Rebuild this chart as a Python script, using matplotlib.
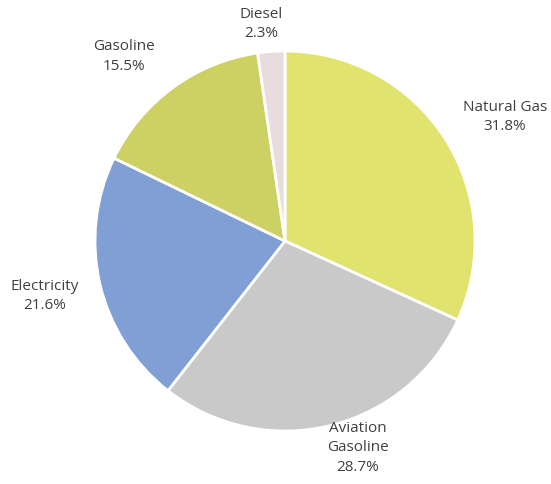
import matplotlib
matplotlib.use("Agg")
import matplotlib.pyplot as plt
import numpy as np

categories = ["Natural Gas", "Aviation\nGasoline", "Electricity", "Gasoline", "Diesel"]
values = [31.8, 28.7, 21.6, 15.5, 2.3]
colors = ["#e0e46f", "#c9c9c9", "#809fd4", "#cdd063", "#e8dcdc"]
# label placement: (angle in degrees, distance in radii)
label_pos = [(29.4, 1.33), (-70.6, 1.155), (192.9, 1.30), (131.2, 1.29), (96.2, 1.15)]

plt.rcParams['font.family'] = ['Open Sans', 'DejaVu Sans']

W, H = 551, 484
fig = plt.figure(figsize=(W/100, H/100), dpi=100)
cx, cy, r = 285, 241, 190
ax = fig.add_axes([(cx - r)/W, (H - cy - r)/H, 2*r/W, 2*r/H])
ax.pie(values, colors=colors, startangle=90, counterclock=False, radius=1,
       wedgeprops=dict(edgecolor="white", linewidth=2))
ax.set_xlim(-1, 1)
ax.set_ylim(-1, 1)
ax.set_aspect("auto")
ax.axis("off")

for cat, v, (ang, d) in zip(categories, values, label_pos):
    a = np.deg2rad(ang)
    ax.text(d*np.cos(a), d*np.sin(a), f"{cat}\n{v}%", ha="center", va="center",
            fontsize=11, color="#404040", linespacing=1.4, clip_on=False)

fig.savefig("out.png", dpi=100)
